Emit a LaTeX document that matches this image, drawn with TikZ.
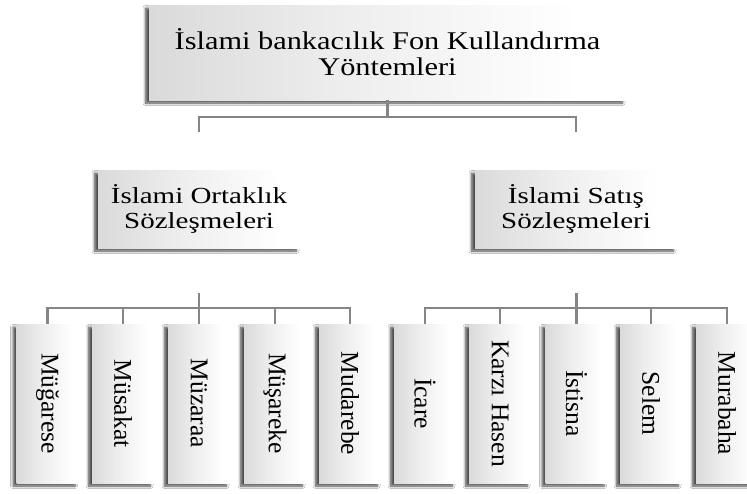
\documentclass[tikz,border=0pt]{standalone}
\usepackage{fontspec}
\usepackage{graphicx}
\setmainfont{Liberation Serif}
\usetikzlibrary{shadows.blur}
% soft grey-to-white fill running left to right
\pgfdeclarehorizontalshading{boxgrad}{100bp}{color(0bp)=(black!24); color(45bp)=(black!7); color(70bp)=(white); color(100bp)=(white)}
\tikzset{
  box/.style={shading=boxgrad, draw=none, inner sep=0pt, align=center,
    blur shadow={shadow xshift=-3.5pt, shadow yshift=-3pt, shadow blur steps=6,
      shadow blur radius=2.5pt, shadow opacity=70}},
  topbox/.style={box, minimum width=477pt, minimum height=95pt,
    font=\fontsize{25.5}{26}\selectfont},
  midbox/.style={box, minimum width=202pt, minimum height=78pt,
    font=\fontsize{23}{24.5}\selectfont},
  leafbox/.style={box, minimum width=62pt, minimum height=159pt,
    font=\fontsize{25.5}{28}\selectfont},
  conn/.style={draw=black!48, line width=2.4pt}
}
\newcommand{\vtext}[1]{\rotatebox{-90}{#1}}
\newcommand{\wide}[2]{\scalebox{#1}[1]{#2}}
\begin{document}
\begin{tikzpicture}[x=1pt, y=-1pt]
  \useasboundingbox (0,0) rectangle (747,493);
  \fill[white] (0,0) rectangle (747,493);

  % root
  \node[topbox] (root) at (387.5,52.5)
    {\wide{1.19}{İslami bankacılık Fon Kullandırma}\\\wide{1.19}{Yöntemleri}};

  % two families of contracts
  \node[midbox] (ortak) at (199,209)
    {\wide{1.26}{İslami Ortaklık}\\\wide{1.26}{Sözleşmeleri}};
  \node[midbox] (satis) at (576,209)
    {\wide{1.26}{İslami Satış}\\\wide{1.26}{Sözleşmeleri}};

  % partnership contracts
  \node[leafbox] (mugarese) at (47.5,403.5) {\vtext{Müğarese}};
  \node[leafbox] (musakat)  at (123,403.5)  {\vtext{Müsakat}};
  \node[leafbox] (muzaraa)  at (199,403.5)  {\vtext{Müzaraa}};
  \node[leafbox] (musareke) at (275,403.5)  {\vtext{Müşareke}};
  \node[leafbox] (mudarebe) at (350,403.5)  {\vtext{Mudarebe}};

  % sales contracts
  \node[leafbox] (icare)    at (425,403.5) {\vtext{İcare}};
  \node[leafbox] (karz)     at (500,403.5) {\vtext{Karzı Hasen}};
  \node[leafbox] (istisna)  at (576.5,403.5) {\vtext{İstisna}};
  \node[leafbox] (selem)    at (651,403.5) {\vtext{Selem}};
  \node[leafbox] (murabaha) at (727,403.5) {\vtext{Murabaha}};

  % connector ends that stop short of the boxes
  \coordinate (rootL) at (199,132);
  \coordinate (rootR) at (576,132);
  \coordinate (ortakTop) at (199,293);
  \coordinate (satisTop) at (576.5,293);

  % root to the two families
  \draw[conn] (root.south) -- ++(0,17) coordinate (rootbar);
  \draw[conn] (rootL) |- (rootbar) -| (rootR);

  % partnership branch
  \draw[conn] (ortakTop) -- ++(0,15) coordinate (obar);
  \foreach \c in {mugarese,musakat,muzaraa,musareke,mudarebe}
    \draw[conn] (obar) -| (\c.north);

  % sales branch
  \draw[conn] (satisTop) -- ++(0,15) coordinate (sbar);
  \foreach \c in {icare,karz,istisna,selem,murabaha}
    \draw[conn] (sbar) -| (\c.north);
\end{tikzpicture}
\end{document}
